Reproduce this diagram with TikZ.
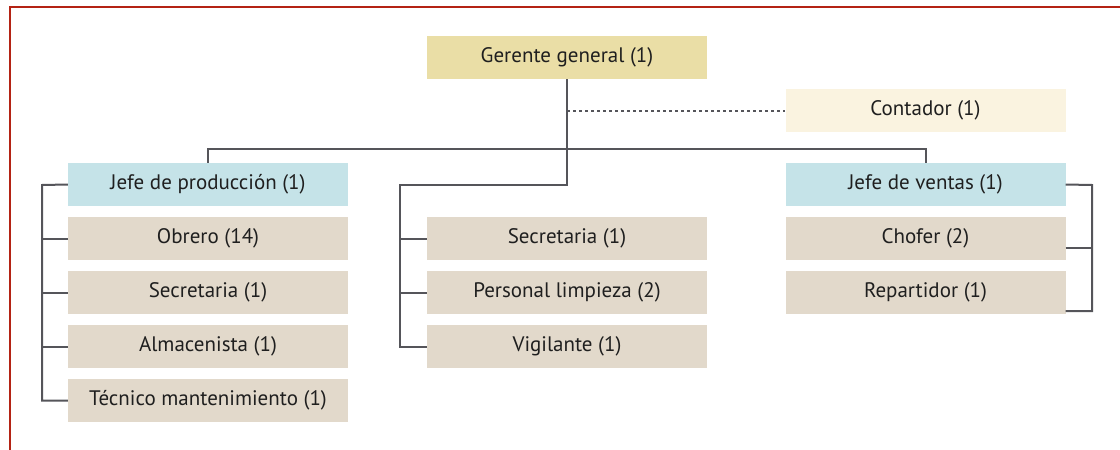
\documentclass[tikz,border=0pt]{standalone}
\usepackage{fontspec}
\setmainfont{PT Sans}
\definecolor{gerentec}{RGB}{234,222,166}
\definecolor{contadorc}{RGB}{250,243,224}
\definecolor{jefec}{RGB}{197,227,232}
\definecolor{puestoc}{RGB}{226,217,203}
\definecolor{lineac}{RGB}{85,85,90}
\definecolor{bordec}{RGB}{180,35,20}
\tikzset{
  caja/.style={minimum width=280pt,minimum height=43pt,inner sep=0pt,text=black!88,font=\fontsize{21}{24}\selectfont},
  conn/.style={lineac,line width=2pt}
}
\begin{document}
\begin{tikzpicture}[x=1pt,y=-1pt]
\useasboundingbox (0,0) rectangle (1120,450);
\draw[bordec,line width=2pt] (10,450) -- (10,7) -- (1120,7);

\node[caja,fill=gerentec] (gerente) at (567,57.5) {Gerente general (1)};
\node[caja,fill=contadorc] (contador) at (925.5,110.5) {Contador (1)};

\node[caja,fill=jefec] (jprod) at (208,184.5) {Jefe de producción (1)};
\node[caja,fill=puestoc] (obrero) at (208,238.5) {Obrero (14)};
\node[caja,fill=puestoc] (secprod) at (208,292.5) {Secretaria (1)};
\node[caja,fill=puestoc] (almacen) at (208,346.5) {Almacenista (1)};
\node[caja,fill=puestoc] (tecnico) at (208,400.5) {Técnico mantenimiento (1)};

\node[caja,fill=puestoc] (secger) at (567,238.5) {Secretaria (1)};
\node[caja,fill=puestoc] (limpieza) at (567,292.5) {Personal limpieza (2)};
\node[caja,fill=puestoc] (vigilante) at (567,346.5) {Vigilante (1)};

\node[caja,fill=jefec] (jventas) at (925.5,184.5) {Jefe de ventas (1)};
\node[caja,fill=puestoc] (chofer) at (925.5,238.5) {Chofer (2)};
\node[caja,fill=puestoc] (repartidor) at (925.5,292.5) {Repartidor (1)};

\coordinate (mid) at (400,185);
\coordinate (lb) at (42,185);
\coordinate (rb) at (1092,185);
\coordinate (chofere) at ([yshift=-9.5pt]chofer.east);
\coordinate (repe) at ([yshift=-18.5pt]repartidor.east);

\draw[conn] (gerente.south) |- (mid) |- (vigilante.west);
\draw[conn] (mid |- secger) -- (secger.west);
\draw[conn] (mid |- limpieza) -- (limpieza.west);
\draw[conn,dash pattern=on 3pt off 3pt] (gerente.south |- contador) -- (contador.west);
\draw[conn] (jprod.north) -- ++(0,-14) -| (jventas.north);

\draw[conn] (jprod.west) -- (lb) |- (tecnico.west);
\draw[conn] (lb |- obrero) -- (obrero.west);
\draw[conn] (lb |- secprod) -- (secprod.west);
\draw[conn] (lb |- almacen) -- (almacen.west);

\draw[conn] (jventas.east) -- (rb) |- (repe);
\draw[conn] (chofere) -- (rb |- chofere);
\end{tikzpicture}
\end{document}
